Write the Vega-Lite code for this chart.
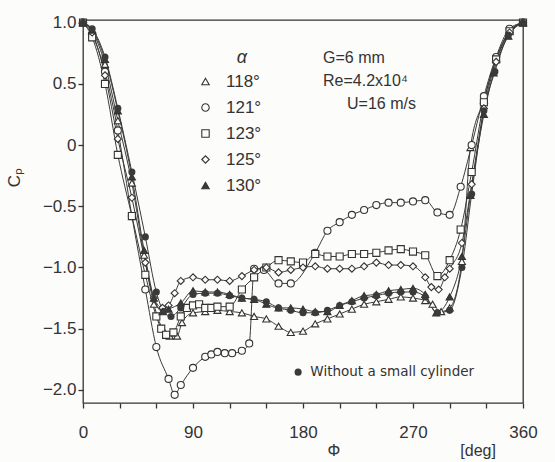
{
  "$schema": "https://vega.github.io/schema/vega-lite/v6.json",
  "width": 440,
  "height": 383,
  "autosize": {"type": "none"},
  "padding": {"left": 83, "top": 20, "right": 32, "bottom": 59},
  "background": "#fcfcfa",
  "config": {
    "view": {"stroke": "#333333", "strokeWidth": 1.3},
    "font": "Liberation Sans",
    "axis": {"grid": false, "domain": false, "labelColor": "#333333", "titleColor": "#333333", "labelFontSize": 17, "titleFontSize": 17, "titleFontWeight": "normal"}
  },
  "datasets": {
    "cp": [
      {"series": "118°", "phi": 0, "cp": 1.0}, {"series": "118°", "phi": 7.5, "cp": 0.93}, {"series": "118°", "phi": 18, "cp": 0.66}, {"series": "118°", "phi": 28.5, "cp": 0.2}, {"series": "118°", "phi": 40, "cp": -0.31}, {"series": "118°", "phi": 50, "cp": -0.9}, {"series": "118°", "phi": 58, "cp": -1.3}, {"series": "118°", "phi": 65, "cp": -1.5}, {"series": "118°", "phi": 71, "cp": -1.56}, {"series": "118°", "phi": 77, "cp": -1.56}, {"series": "118°", "phi": 81, "cp": -1.45}, {"series": "118°", "phi": 90, "cp": -1.37}, {"series": "118°", "phi": 100, "cp": -1.36}, {"series": "118°", "phi": 110, "cp": -1.35}, {"series": "118°", "phi": 120, "cp": -1.36}, {"series": "118°", "phi": 130, "cp": -1.37}, {"series": "118°", "phi": 140, "cp": -1.4}, {"series": "118°", "phi": 150, "cp": -1.42}, {"series": "118°", "phi": 160, "cp": -1.48}, {"series": "118°", "phi": 170, "cp": -1.53}, {"series": "118°", "phi": 180, "cp": -1.52}, {"series": "118°", "phi": 190, "cp": -1.46}, {"series": "118°", "phi": 200, "cp": -1.42}, {"series": "118°", "phi": 210, "cp": -1.38}, {"series": "118°", "phi": 220, "cp": -1.34}, {"series": "118°", "phi": 230, "cp": -1.3}, {"series": "118°", "phi": 240, "cp": -1.28}, {"series": "118°", "phi": 250, "cp": -1.26}, {"series": "118°", "phi": 260, "cp": -1.24}, {"series": "118°", "phi": 270, "cp": -1.25}, {"series": "118°", "phi": 280, "cp": -1.27}, {"series": "118°", "phi": 286, "cp": -1.3}, {"series": "118°", "phi": 293, "cp": -1.36}, {"series": "118°", "phi": 300, "cp": -1.33}, {"series": "118°", "phi": 310, "cp": -0.95}, {"series": "118°", "phi": 317, "cp": -0.02}, {"series": "118°", "phi": 328, "cp": 0.37}, {"series": "118°", "phi": 338, "cp": 0.7}, {"series": "118°", "phi": 349, "cp": 0.93}, {"series": "118°", "phi": 360, "cp": 1.0},
      {"series": "121°", "phi": 0, "cp": 1.0}, {"series": "121°", "phi": 7.5, "cp": 0.9}, {"series": "121°", "phi": 18, "cp": 0.6}, {"series": "121°", "phi": 28.5, "cp": 0.12}, {"series": "121°", "phi": 40, "cp": -0.58}, {"series": "121°", "phi": 51, "cp": -1.18}, {"series": "121°", "phi": 60, "cp": -1.65}, {"series": "121°", "phi": 70, "cp": -1.91}, {"series": "121°", "phi": 75, "cp": -2.04}, {"series": "121°", "phi": 80, "cp": -1.96}, {"series": "121°", "phi": 90, "cp": -1.82}, {"series": "121°", "phi": 100, "cp": -1.73}, {"series": "121°", "phi": 105, "cp": -1.71}, {"series": "121°", "phi": 110, "cp": -1.69}, {"series": "121°", "phi": 116, "cp": -1.7}, {"series": "121°", "phi": 122, "cp": -1.7}, {"series": "121°", "phi": 130, "cp": -1.68}, {"series": "121°", "phi": 136, "cp": -1.62}, {"series": "121°", "phi": 140, "cp": -1.01}, {"series": "121°", "phi": 148, "cp": -1.02}, {"series": "121°", "phi": 160, "cp": -1.13}, {"series": "121°", "phi": 170, "cp": -1.13}, {"series": "121°", "phi": 190, "cp": -0.88}, {"series": "121°", "phi": 200, "cp": -0.7}, {"series": "121°", "phi": 210, "cp": -0.63}, {"series": "121°", "phi": 220, "cp": -0.57}, {"series": "121°", "phi": 230, "cp": -0.53}, {"series": "121°", "phi": 240, "cp": -0.49}, {"series": "121°", "phi": 250, "cp": -0.47}, {"series": "121°", "phi": 260, "cp": -0.47}, {"series": "121°", "phi": 270, "cp": -0.46}, {"series": "121°", "phi": 280, "cp": -0.45}, {"series": "121°", "phi": 290, "cp": -0.55}, {"series": "121°", "phi": 300, "cp": -0.57}, {"series": "121°", "phi": 309, "cp": -0.34}, {"series": "121°", "phi": 318, "cp": 0.0}, {"series": "121°", "phi": 328, "cp": 0.4}, {"series": "121°", "phi": 338, "cp": 0.72}, {"series": "121°", "phi": 349, "cp": 0.95}, {"series": "121°", "phi": 360, "cp": 1.0},
      {"series": "123°", "phi": 0, "cp": 1.0}, {"series": "123°", "phi": 7.5, "cp": 0.88}, {"series": "123°", "phi": 18, "cp": 0.5}, {"series": "123°", "phi": 28.5, "cp": -0.08}, {"series": "123°", "phi": 40, "cp": -0.58}, {"series": "123°", "phi": 51, "cp": -1.06}, {"series": "123°", "phi": 60, "cp": -1.4}, {"series": "123°", "phi": 64, "cp": -1.5}, {"series": "123°", "phi": 68, "cp": -1.55}, {"series": "123°", "phi": 74, "cp": -1.53}, {"series": "123°", "phi": 80, "cp": -1.4}, {"series": "123°", "phi": 85, "cp": -1.33}, {"series": "123°", "phi": 90, "cp": -1.31}, {"series": "123°", "phi": 95, "cp": -1.3}, {"series": "123°", "phi": 100, "cp": -1.33}, {"series": "123°", "phi": 105, "cp": -1.33}, {"series": "123°", "phi": 110, "cp": -1.32}, {"series": "123°", "phi": 120, "cp": -1.32}, {"series": "123°", "phi": 130, "cp": -1.18}, {"series": "123°", "phi": 140, "cp": -1.08}, {"series": "123°", "phi": 150, "cp": -1.0}, {"series": "123°", "phi": 160, "cp": -0.94}, {"series": "123°", "phi": 170, "cp": -0.95}, {"series": "123°", "phi": 180, "cp": -0.96}, {"series": "123°", "phi": 190, "cp": -0.89}, {"series": "123°", "phi": 200, "cp": -0.91}, {"series": "123°", "phi": 210, "cp": -0.91}, {"series": "123°", "phi": 220, "cp": -0.89}, {"series": "123°", "phi": 230, "cp": -0.89}, {"series": "123°", "phi": 240, "cp": -0.88}, {"series": "123°", "phi": 250, "cp": -0.86}, {"series": "123°", "phi": 260, "cp": -0.85}, {"series": "123°", "phi": 270, "cp": -0.87}, {"series": "123°", "phi": 280, "cp": -0.9}, {"series": "123°", "phi": 290, "cp": -1.07}, {"series": "123°", "phi": 300, "cp": -0.94}, {"series": "123°", "phi": 309, "cp": -0.69}, {"series": "123°", "phi": 318, "cp": -0.22}, {"series": "123°", "phi": 328, "cp": 0.35}, {"series": "123°", "phi": 338, "cp": 0.7}, {"series": "123°", "phi": 349, "cp": 0.93}, {"series": "123°", "phi": 360, "cp": 1.0},
      {"series": "125°", "phi": 0, "cp": 1.0}, {"series": "125°", "phi": 7.5, "cp": 0.92}, {"series": "125°", "phi": 18, "cp": 0.57}, {"series": "125°", "phi": 28.5, "cp": 0.05}, {"series": "125°", "phi": 40, "cp": -0.43}, {"series": "125°", "phi": 51, "cp": -0.96}, {"series": "125°", "phi": 58, "cp": -1.25}, {"series": "125°", "phi": 65, "cp": -1.33}, {"series": "125°", "phi": 70, "cp": -1.31}, {"series": "125°", "phi": 75, "cp": -1.21}, {"series": "125°", "phi": 80, "cp": -1.11}, {"series": "125°", "phi": 90, "cp": -1.08}, {"series": "125°", "phi": 100, "cp": -1.1}, {"series": "125°", "phi": 110, "cp": -1.1}, {"series": "125°", "phi": 120, "cp": -1.11}, {"series": "125°", "phi": 130, "cp": -1.07}, {"series": "125°", "phi": 140, "cp": -1.02}, {"series": "125°", "phi": 150, "cp": -1.0}, {"series": "125°", "phi": 160, "cp": -1.04}, {"series": "125°", "phi": 170, "cp": -1.02}, {"series": "125°", "phi": 180, "cp": -1.0}, {"series": "125°", "phi": 190, "cp": -0.99}, {"series": "125°", "phi": 200, "cp": -1.01}, {"series": "125°", "phi": 210, "cp": -1.01}, {"series": "125°", "phi": 220, "cp": -1.01}, {"series": "125°", "phi": 230, "cp": -0.99}, {"series": "125°", "phi": 240, "cp": -0.96}, {"series": "125°", "phi": 250, "cp": -0.98}, {"series": "125°", "phi": 260, "cp": -0.98}, {"series": "125°", "phi": 270, "cp": -0.99}, {"series": "125°", "phi": 280, "cp": -1.08}, {"series": "125°", "phi": 285, "cp": -1.16}, {"series": "125°", "phi": 291, "cp": -1.18}, {"series": "125°", "phi": 296, "cp": -1.08}, {"series": "125°", "phi": 300, "cp": -1.01}, {"series": "125°", "phi": 310, "cp": -0.8}, {"series": "125°", "phi": 318, "cp": -0.32}, {"series": "125°", "phi": 328, "cp": 0.3}, {"series": "125°", "phi": 338, "cp": 0.68}, {"series": "125°", "phi": 349, "cp": 0.92}, {"series": "125°", "phi": 360, "cp": 1.0},
      {"series": "130°", "phi": 0, "cp": 1.0}, {"series": "130°", "phi": 7.5, "cp": 0.94}, {"series": "130°", "phi": 18, "cp": 0.7}, {"series": "130°", "phi": 28.5, "cp": 0.28}, {"series": "130°", "phi": 40, "cp": -0.26}, {"series": "130°", "phi": 50, "cp": -0.86}, {"series": "130°", "phi": 58, "cp": -1.25}, {"series": "130°", "phi": 65, "cp": -1.36}, {"series": "130°", "phi": 70, "cp": -1.34}, {"series": "130°", "phi": 80, "cp": -1.29}, {"series": "130°", "phi": 90, "cp": -1.19}, {"series": "130°", "phi": 100, "cp": -1.2}, {"series": "130°", "phi": 110, "cp": -1.2}, {"series": "130°", "phi": 120, "cp": -1.22}, {"series": "130°", "phi": 130, "cp": -1.25}, {"series": "130°", "phi": 140, "cp": -1.26}, {"series": "130°", "phi": 150, "cp": -1.3}, {"series": "130°", "phi": 160, "cp": -1.33}, {"series": "130°", "phi": 170, "cp": -1.33}, {"series": "130°", "phi": 180, "cp": -1.34}, {"series": "130°", "phi": 190, "cp": -1.36}, {"series": "130°", "phi": 200, "cp": -1.36}, {"series": "130°", "phi": 210, "cp": -1.31}, {"series": "130°", "phi": 220, "cp": -1.27}, {"series": "130°", "phi": 230, "cp": -1.23}, {"series": "130°", "phi": 240, "cp": -1.22}, {"series": "130°", "phi": 250, "cp": -1.19}, {"series": "130°", "phi": 260, "cp": -1.18}, {"series": "130°", "phi": 270, "cp": -1.17}, {"series": "130°", "phi": 280, "cp": -1.22}, {"series": "130°", "phi": 289, "cp": -1.37}, {"series": "130°", "phi": 300, "cp": -1.24}, {"series": "130°", "phi": 310, "cp": -0.91}, {"series": "130°", "phi": 317, "cp": -0.41}, {"series": "130°", "phi": 328, "cp": 0.25}, {"series": "130°", "phi": 336, "cp": 0.59}, {"series": "130°", "phi": 348, "cp": 0.89}, {"series": "130°", "phi": 360, "cp": 1.0},
      {"series": "Without", "phi": 0, "cp": 1.0}, {"series": "Without", "phi": 7.5, "cp": 0.95}, {"series": "Without", "phi": 18, "cp": 0.72}, {"series": "Without", "phi": 28.5, "cp": 0.3}, {"series": "Without", "phi": 40, "cp": -0.22}, {"series": "Without", "phi": 51, "cp": -0.75}, {"series": "Without", "phi": 60, "cp": -1.2}, {"series": "Without", "phi": 66, "cp": -1.36}, {"series": "Without", "phi": 72, "cp": -1.4}, {"series": "Without", "phi": 80, "cp": -1.33}, {"series": "Without", "phi": 90, "cp": -1.22}, {"series": "Without", "phi": 100, "cp": -1.21}, {"series": "Without", "phi": 110, "cp": -1.21}, {"series": "Without", "phi": 120, "cp": -1.23}, {"series": "Without", "phi": 130, "cp": -1.25}, {"series": "Without", "phi": 140, "cp": -1.26}, {"series": "Without", "phi": 150, "cp": -1.28}, {"series": "Without", "phi": 160, "cp": -1.33}, {"series": "Without", "phi": 170, "cp": -1.35}, {"series": "Without", "phi": 180, "cp": -1.37}, {"series": "Without", "phi": 190, "cp": -1.37}, {"series": "Without", "phi": 200, "cp": -1.35}, {"series": "Without", "phi": 210, "cp": -1.31}, {"series": "Without", "phi": 220, "cp": -1.28}, {"series": "Without", "phi": 230, "cp": -1.25}, {"series": "Without", "phi": 240, "cp": -1.23}, {"series": "Without", "phi": 250, "cp": -1.21}, {"series": "Without", "phi": 260, "cp": -1.2}, {"series": "Without", "phi": 270, "cp": -1.2}, {"series": "Without", "phi": 280, "cp": -1.24}, {"series": "Without", "phi": 290, "cp": -1.37}, {"series": "Without", "phi": 300, "cp": -1.35}, {"series": "Without", "phi": 310, "cp": -1.0}, {"series": "Without", "phi": 318, "cp": -0.4}, {"series": "Without", "phi": 328, "cp": 0.28}, {"series": "Without", "phi": 337, "cp": 0.6}, {"series": "Without", "phi": 348, "cp": 0.9}, {"series": "Without", "phi": 360, "cp": 1.0}
    ]
  },
  "layer": [
    {
      "data": {"name": "cp"},
      "mark": {"type": "line", "color": "#3a3a3a", "strokeWidth": 1, "interpolate": "monotone"},
      "encoding": {
        "x": {"field": "phi", "type": "quantitative", "scale": {"domain": [0, 360], "nice": false, "zero": false},
          "axis": {"orient": "bottom", "values": [0, 30, 60, 90, 120, 150, 180, 210, 240, 270, 300, 330, 360], "labelExpr": "datum.value % 90 === 0 ? datum.value : ''", "labelPadding": 16, "labelFlush": false, "labelOverlap": false,
            "ticks": true, "tickSize": 5, "tickWidth": 1.3, "tickColor": "#333333",
            "title": "Φ\u00a0\u00a0\u00a0\u00a0\u00a0\u00a0\u00a0\u00a0\u00a0\u00a0\u00a0\u00a0\u00a0\u00a0\u00a0\u00a0\u00a0\u00a0\u00a0\u00a0\u00a0\u00a0\u00a0\u00a0\u00a0\u00a0\u00a0[deg]", "titleAlign": "left", "titleX": 244, "titleY": 39, "titleFontSize": 16}},
        "y": {"field": "cp", "type": "quantitative", "scale": {"domain": [-2.107, 1.022], "nice": false, "zero": false},
          "axis": {"orient": "left", "values": [-2, -1.5, -1, -0.5, 0, 0.5, 1], "labelExpr": "datum.value === 0 ? '0' : format(datum.value, '.1f')", "labelPadding": 2, "labelFlush": false, "labelOverlap": false,
            "ticks": true, "tickSize": 5, "tickWidth": 1.3, "tickColor": "#333333",
            "title": "Cₚ", "titleX": -60, "titleY": 157, "titleFontSize": 17}},
        "detail": {"field": "series"}
      }
    },
    {
      "data": {"name": "cp"},
      "transform": [{"filter": "datum.series !== 'Without'"}],
      "mark": {"type": "point", "filled": true, "strokeWidth": 1.1, "size": 50, "opacity": 1},
      "encoding": {
        "x": {"field": "phi", "type": "quantitative", "axis": null},
        "y": {"field": "cp", "type": "quantitative", "axis": null},
        "shape": {"field": "series", "type": "nominal", "scale": {"domain": ["118°", "121°", "123°", "125°", "130°"], "range": ["triangle-up", "circle", "square", "diamond", "triangle-up"]},
          "legend": {"title": null, "orient": "none", "legendX": 114, "legendY": 53, "labelFontSize": 17, "labelColor": "#333333", "labelOffset": 12, "rowPadding": 8, "symbolSize": 55, "padding": 0, "symbolStrokeWidth": 1.1}},
        "fill": {"field": "series", "type": "nominal", "scale": {"domain": ["118°", "121°", "123°", "125°", "130°"], "range": ["#fcfcfa", "#fcfcfa", "#fcfcfa", "#fcfcfa", "#3a3a3a"]},
          "legend": {"title": null, "orient": "none", "legendX": 114, "legendY": 53}},
        "stroke": {"field": "series", "type": "nominal", "scale": {"domain": ["118°", "121°", "123°", "125°", "130°"], "range": ["#333333", "#333333", "#333333", "#333333", "#333333"]},
          "legend": {"title": null, "orient": "none", "legendX": 114, "legendY": 53}}
      }
    },
    {
      "data": {"name": "cp"},
      "transform": [{"filter": "datum.series === 'Without'"}],
      "mark": {"type": "point", "shape": "circle", "filled": true, "color": "#3a3a3a", "size": 50, "opacity": 1},
      "encoding": {
        "x": {"field": "phi", "type": "quantitative", "axis": null},
        "y": {"field": "cp", "type": "quantitative", "axis": null}
      }
    },
    {
      "data": {"values": [{"phi": 176, "cp": -1.855}]},
      "mark": {"type": "point", "shape": "circle", "filled": true, "color": "#3a3a3a", "size": 50, "opacity": 1},
      "encoding": {
        "x": {"field": "phi", "type": "quantitative", "axis": null},
        "y": {"field": "cp", "type": "quantitative", "axis": null}
      }
    },
    {
      "data": {"values": [
        {"phi": 186, "cp": -1.855, "label": "Without a small cylinder"}
      ]},
      "mark": {"type": "text", "align": "left", "baseline": "middle", "font": "DejaVu Sans", "fontSize": 13.5, "color": "#333333"},
      "encoding": {
        "x": {"field": "phi", "type": "quantitative", "axis": null},
        "y": {"field": "cp", "type": "quantitative", "axis": null},
        "text": {"field": "label"}
      }
    },
    {
      "data": {"values": [
        {"phi": 130, "cp": 0.712, "label": "α"}
      ]},
      "mark": {"type": "text", "align": "center", "baseline": "middle", "fontSize": 18, "fontStyle": "italic", "color": "#333333"},
      "encoding": {
        "x": {"field": "phi", "type": "quantitative", "axis": null},
        "y": {"field": "cp", "type": "quantitative", "axis": null},
        "text": {"field": "label"}
      }
    },
    {
      "data": {"values": [
        {"phi": 196.4, "cp": 0.712, "label": "G=6 mm"},
        {"phi": 196.4, "cp": 0.524, "label": "Re=4.2x10⁴"},
        {"phi": 216, "cp": 0.336, "label": "U=16 m/s"}
      ]},
      "mark": {"type": "text", "align": "left", "baseline": "middle", "fontSize": 16, "color": "#333333"},
      "encoding": {
        "x": {"field": "phi", "type": "quantitative", "axis": null},
        "y": {"field": "cp", "type": "quantitative", "axis": null},
        "text": {"field": "label"}
      }
    }
  ],
  "resolve": {"axis": {"x": "independent", "y": "independent"}}
}
